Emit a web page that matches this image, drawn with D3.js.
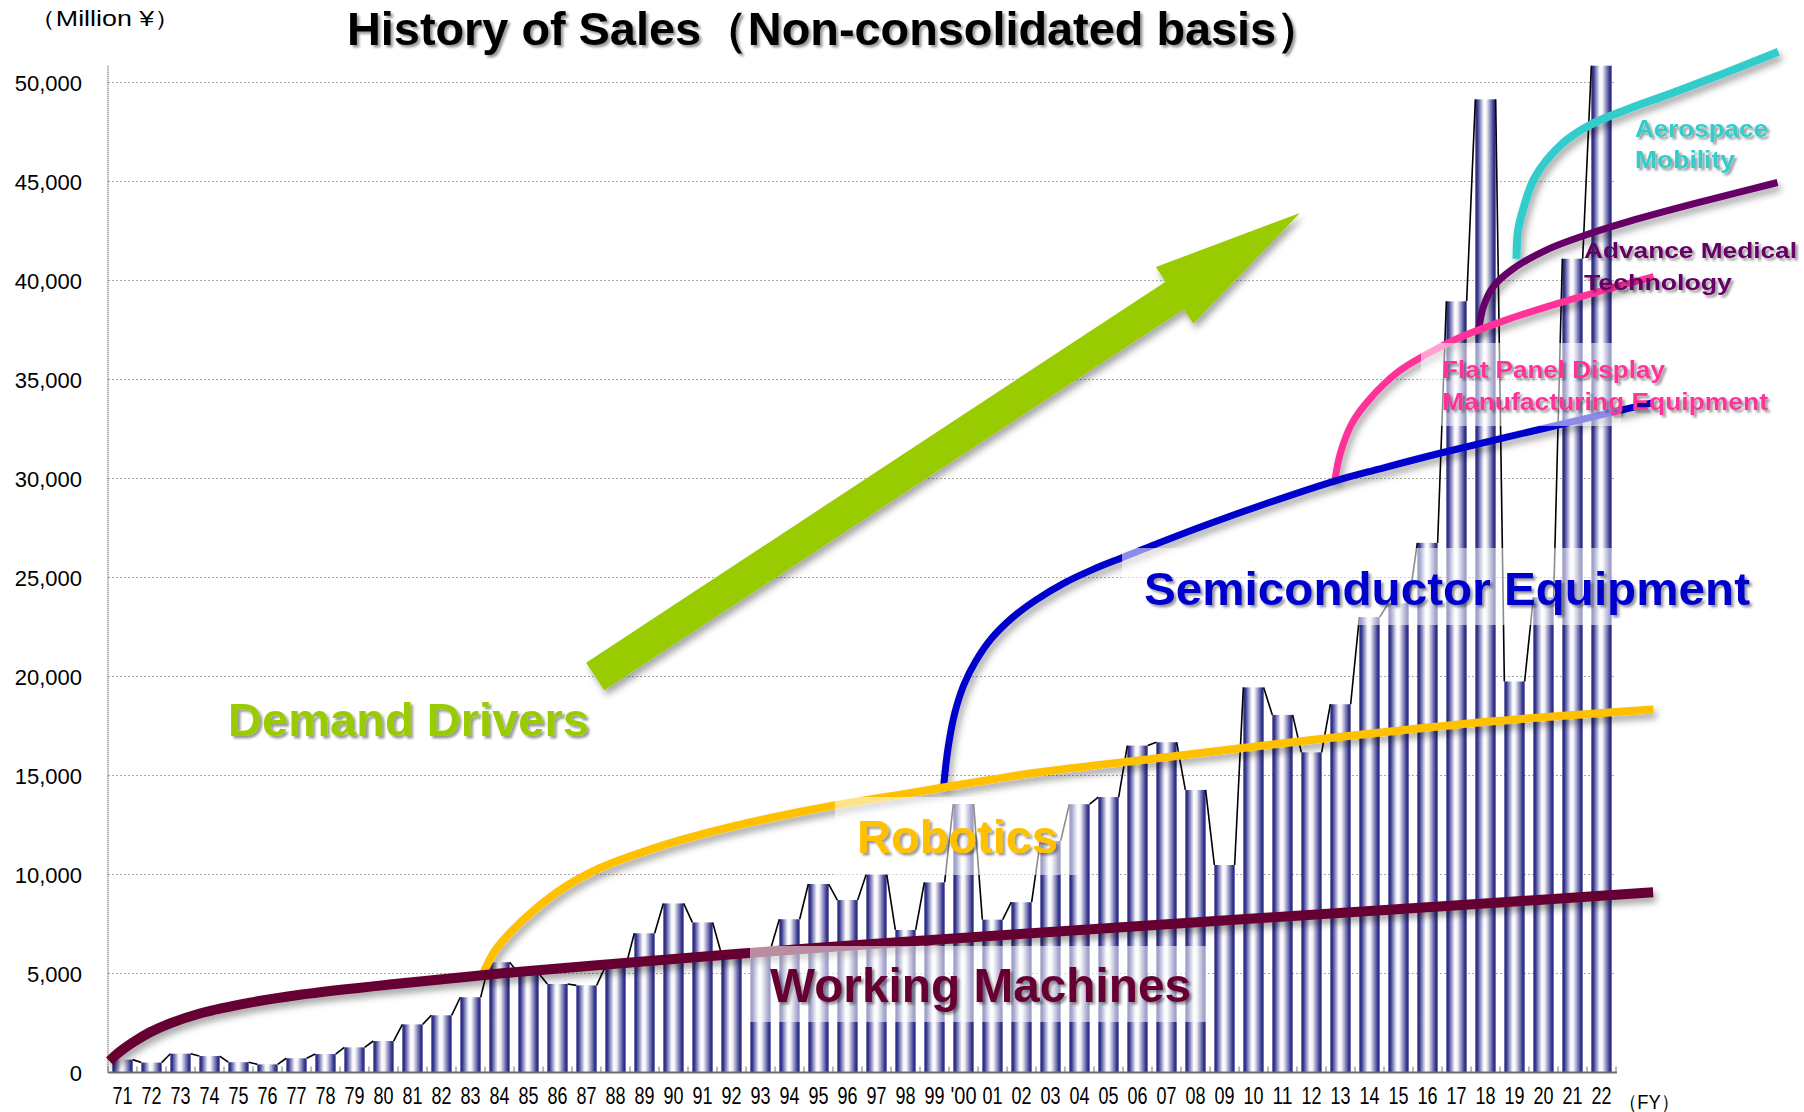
<!DOCTYPE html>
<html>
<head>
<meta charset="utf-8">
<script src="https://cdn.jsdelivr.net/npm/d3@7"></script>
<style>
  body { margin: 0; background: #fff; }
  text { font-family: "Liberation Sans", Arial, sans-serif; }
</style>
</head>
<body>
<div id="chart"></div>
<script>
// fiscal years on the x axis
var years = ["71","72","73","74","75","76","77","78","79","80","81","82","83","84","85","86","87","88","89","90",
  "91","92","93","94","95","96","97","98","99","'00","01","02","03","04","05","06","07","08","09","10",
  "11","12","13","14","15","16","17","18","19","20","21","22"];

// sales, million yen
var sales = [650, 500, 950, 830, 520, 410, 720, 930, 1270, 1590,
  2430, 2890, 3800, 5570, 5010, 4470, 4400, 5350, 7030, 8540,
  7580, 6000, 6250, 7740, 9520, 8710, 10030, 7200, 9600, 13560,
  7720, 8600, 11700, 13550, 13910, 16510, 16680, 14270, 10480, 19450,
  18060, 16170, 18600, 23000, 23700, 26750, 38950, 49150, 19750, 24000,
  41100, 50850];

var yTicks = [0, 5000, 10000, 15000, 20000, 25000, 30000, 35000, 40000, 45000, 50000];

// business lines: [fiscal year, million yen]
var workingMachines = [[1970.55, 580], [1970.91, 1050], [1971.36, 1520], [1971.95, 2030], [1972.64, 2480],
  [1973.67, 2980], [1975.4, 3530], [1977.12, 3930], [1980.57, 4500], [1984.02, 5000], [1987.47, 5430],
  [1994.53, 6250], [2001.95, 7000], [2018.5, 8590], [2023.78, 9100]];
var robotics = [[1983.44, 5020], [1983.84, 6140], [1984.36, 7050], [1985.16, 8160], [1986.26, 9370],
  [1987.47, 10330], [1988.84, 11090], [1990.58, 11880], [1994.55, 13220], [1998.51, 14200],
  [2002.48, 15140], [2006.45, 15830], [2010.42, 16530], [2014.38, 17170], [2018.35, 17750], [2023.79, 18330]];
var semiconductor = [[1999.31, 14400], [1999.47, 16410], [1999.7, 18160], [2000.02, 19610], [2000.42, 20770],
  [2000.97, 21930], [2001.69, 22980], [2002.48, 23850], [2003.47, 24720], [2004.47, 25410], [2005.45, 25990],
  [2006.45, 26580], [2008.43, 27690], [2010.42, 28725], [2012.8, 29870], [2014.36, 30490], [2016.36, 31250],
  [2020.33, 32640], [2023.78, 33830]];
var flatPanel = [[2012.8, 29870], [2013.0, 31300], [2013.4, 32800], [2014.0, 34000], [2015.0, 35400],
  [2016.0, 36300], [2017.0, 37050], [2018.5, 37900], [2020.5, 38850], [2023.8, 40200]];
var medical = [[2017.76, 37450], [2017.93, 38680], [2018.27, 39690], [2018.96, 40600], [2020.11, 41550],
  [2021.26, 42200], [2022.98, 43000], [2025.5, 44000], [2028.07, 44950]];
var aerospace = [[2019.07, 41100], [2019.12, 42500], [2019.3, 43600], [2019.7, 45200], [2020.6, 46850],
  [2021.6, 47850], [2022.9, 48650], [2024.4, 49450], [2026.2, 50450], [2028.1, 51550]];

// "Demand Drivers" arrow: tail and tip
var arrowFrom = [1987.3, 20000];
var arrowTo = [2011.6, 43410];

var svgWidth = 1804;
var svgHeight = 1112;
var plotLeft = 108, plotRight = 1616, plotBottom = 1072.5, plotTop = 65.7;

var svg = d3.select("#chart")
  .append("svg")
  .attr("width", svgWidth)
  .attr("height", svgHeight);

var defs = svg.append("defs");

// cylinder-like gradient for the bars
var grad = defs.append("linearGradient")
  .attr("id", "barGrad")
  .attr("x1", "0%").attr("x2", "100%").attr("y1", "0%").attr("y2", "0%");
[[0, "#26267c"], [0.1, "#35358f"], [0.42, "#ffffff"], [0.55, "#f0f0f7"], [0.9, "#36368f"], [1, "#26267c"]]
  .forEach(function(s) {
    grad.append("stop").attr("offset", s[0]).attr("stop-color", s[1]);
  });

function addShadow(id, dx, dy, sd, op) {
  var f = defs.append("filter").attr("id", id)
    .attr("filterUnits", "userSpaceOnUse")
    .attr("x", 0).attr("y", 0).attr("width", svgWidth).attr("height", svgHeight);
  f.append("feDropShadow")
    .attr("dx", dx).attr("dy", dy).attr("stdDeviation", sd)
    .attr("flood-color", "#000").attr("flood-opacity", op);
}
addShadow("lineShadow", 3, 5, 3.5, 0.35);
addShadow("textShadow", 2.5, 2.5, 1.2, 0.4);

// scales
var xBand = d3.scaleBand()
  .domain(years)
  .range([plotLeft, plotRight])
  .paddingInner(0.3)
  .paddingOuter(0.15);

var xYear = d3.scaleLinear()
  .domain([1970.5, 2022.5])
  .range([plotLeft, plotRight]);

var yLinearScale = d3.scaleLinear()
  .domain([0, 50850])
  .range([plotBottom, plotTop]);

// gridlines
svg.append("g")
  .selectAll("line")
  .data(yTicks.slice(1))
  .enter()
  .append("line")
  .attr("x1", plotLeft)
  .attr("x2", plotRight)
  .attr("y1", d => yLinearScale(d))
  .attr("y2", d => yLinearScale(d))
  .attr("stroke", "#a8a8a8")
  .attr("stroke-width", 1)
  .attr("stroke-dasharray", "2,2");

// y axis line (dotted)
svg.append("line")
  .attr("x1", plotLeft).attr("x2", plotLeft)
  .attr("y1", plotTop).attr("y2", plotBottom)
  .attr("stroke", "#333")
  .attr("stroke-width", 1)
  .attr("stroke-dasharray", "1,1");

// bars
svg.append("g")
  .selectAll("rect")
  .data(sales)
  .enter()
  .append("rect")
  .attr("x", (d, i) => xBand(years[i]))
  .attr("y", d => yLinearScale(d))
  .attr("width", xBand.bandwidth())
  .attr("height", d => plotBottom - yLinearScale(d))
  .attr("fill", "url(#barGrad)");

// series lines between bar tops
var pairs = d3.pairs(sales.map((d, i) => ({ year: years[i], value: d })));
svg.append("g")
  .selectAll("line")
  .data(pairs)
  .enter()
  .append("line")
  .attr("x1", d => xBand(d[0].year) + xBand.bandwidth())
  .attr("y1", d => yLinearScale(d[0].value))
  .attr("x2", d => xBand(d[1].year))
  .attr("y2", d => yLinearScale(d[1].value))
  .attr("stroke", "#000")
  .attr("stroke-width", 1.6);

// x axis
var bottomAxis = d3.axisBottom(xBand).tickSize(0).tickPadding(0);
var xAxis = svg.append("g")
  .attr("transform", `translate(0, ${plotBottom})`)
  .call(bottomAxis);
xAxis.select(".domain").remove();
xAxis.selectAll("text")
  .attr("y", 31.5)
  .attr("dy", null)
  .attr("fill", "#000")
  .attr("textLength", d => d.length > 2 ? 26 : 20)
  .attr("lengthAdjust", "spacingAndGlyphs")
  .style("font-family", "'Liberation Sans', Arial, sans-serif")
  .style("font-size", "23px");

svg.append("line")
  .attr("x1", plotLeft).attr("x2", plotRight + 1)
  .attr("y1", plotBottom).attr("y2", plotBottom)
  .attr("stroke", "#6e6e6e")
  .attr("stroke-width", 2);

svg.append("g")
  .selectAll("line")
  .data(d3.range(years.length + 1))
  .enter()
  .append("line")
  .attr("x1", i => plotLeft + i * xBand.step())
  .attr("x2", i => plotLeft + i * xBand.step())
  .attr("y1", plotBottom - 6)
  .attr("y2", plotBottom)
  .attr("stroke", "#777")
  .attr("stroke-width", 1);

// y tick labels
svg.append("g")
  .selectAll("text")
  .data(yTicks)
  .enter()
  .append("text")
  .attr("x", 82)
  .attr("y", d => yLinearScale(d) + 8)
  .attr("text-anchor", "end")
  .style("font-size", "22px")
  .text(d => d3.format(",")(d));

// business-line curves (children first so the parent line covers the joint)
var curveLine = d3.line()
  .x(d => xYear(d[0]))
  .y(d => yLinearScale(d[1]))
  .curve(d3.curveCatmullRom.alpha(0.5));

var curves = [
  { data: aerospace, color: "#33cccc", width: 8 },
  { data: medical, color: "#660066", width: 7 },
  { data: flatPanel, color: "#ff3399", width: 7 },
  { data: semiconductor, color: "#0000cc", width: 7 },
  { data: robotics, color: "#ffc000", width: 8 },
  { data: workingMachines, color: "#660033", width: 10 }
];
svg.append("g")
  .selectAll("path")
  .data(curves)
  .enter()
  .append("path")
  .attr("d", d => curveLine(d.data))
  .attr("fill", "none")
  .attr("stroke", d => d.color)
  .attr("stroke-width", d => d.width)
  .attr("filter", "url(#lineShadow)");

// Demand Drivers arrow
var p0 = [xYear(arrowFrom[0]), yLinearScale(arrowFrom[1])];
var p1 = [xYear(arrowTo[0]), yLinearScale(arrowTo[1])];
var len = Math.hypot(p1[0] - p0[0], p1[1] - p0[1]);
var ux = (p1[0] - p0[0]) / len, uy = (p1[1] - p0[1]) / len;
var px = -uy, py = ux;
var shaftHalf = 16.5, headHalf = 34, headLen = 150;
function pt(along, side) {
  return [p0[0] + ux * along + px * side, p0[1] + uy * along + py * side];
}
var arrowPts = [
  pt(0, -shaftHalf), pt(len - headLen, -shaftHalf), pt(len - headLen, -headHalf),
  pt(len, 0),
  pt(len - headLen, headHalf), pt(len - headLen, shaftHalf), pt(0, shaftHalf)
];
svg.append("path")
  .attr("d", d3.line()(arrowPts) + "Z")
  .attr("fill", "#99cc00")
  .attr("filter", "url(#lineShadow)");

// translucent boxes behind the labels
var boxes = [
  [750, 946, 456, 76],
  [835, 797, 243, 78],
  [1122, 548, 495, 77],
  [1421, 343, 200, 83]
];
svg.append("g")
  .selectAll("rect")
  .data(boxes)
  .enter()
  .append("rect")
  .attr("x", d => d[0])
  .attr("y", d => d[1])
  .attr("width", d => d[2])
  .attr("height", d => d[3])
  .attr("fill", "#fff")
  .attr("fill-opacity", 0.55);

// labels
var labels = [
  { text: "Demand Drivers", x: 228, y: 736, size: 47, color: "#99cc00", len: 361 },
  { text: "Working Machines", x: 770, y: 1002, size: 49, color: "#660033", len: 421 },
  { text: "Robotics", x: 857, y: 853, size: 46, color: "#ffc000", len: 201 },
  { text: "Semiconductor Equipment", x: 1144, y: 605, size: 46, color: "#0000cc", len: 606 },
  { text: "Flat Panel Display", x: 1442, y: 378, size: 23, color: "#ff3399", len: 223 },
  { text: "Manufacturing Equipment", x: 1442, y: 410, size: 23, color: "#ff3399", len: 326 },
  { text: "Advance Medical", x: 1584, y: 258, size: 22, color: "#660066", len: 213 },
  { text: "Technology", x: 1584, y: 290, size: 22, color: "#660066", len: 148 },
  { text: "Aerospace", x: 1635, y: 137, size: 23, color: "#33cccc", len: 133 },
  { text: "Mobility", x: 1635, y: 168, size: 23, color: "#33cccc", len: 100 }
];
svg.append("g")
  .selectAll("text")
  .data(labels)
  .enter()
  .append("text")
  .attr("x", d => d.x)
  .attr("y", d => d.y)
  .attr("fill", d => d.color)
  .attr("textLength", d => d.len)
  .attr("lengthAdjust", "spacingAndGlyphs")
  .attr("filter", "url(#textShadow)")
  .style("font-size", d => d.size + "px")
  .style("font-weight", "bold")
  .text(d => d.text);

// title and units
svg.append("text")
  .attr("x", 347)
  .attr("y", 45)
  .attr("textLength", 976)
  .attr("lengthAdjust", "spacingAndGlyphs")
  .attr("filter", "url(#textShadow)")
  .style("font-size", "46px")
  .style("font-weight", "bold")
  .text("History of Sales（Non-consolidated basis）");

svg.append("text")
  .attr("x", 29)
  .attr("y", 26)
  .attr("textLength", 152)
  .attr("lengthAdjust", "spacingAndGlyphs")
  .style("font-size", "22px")
  .text("（Million ¥）");

svg.append("text")
  .attr("x", 1619)
  .attr("y", 1109)
  .attr("textLength", 60)
  .attr("lengthAdjust", "spacingAndGlyphs")
  .style("font-size", "20px")
  .text("（FY）");
</script>
</body>
</html>
